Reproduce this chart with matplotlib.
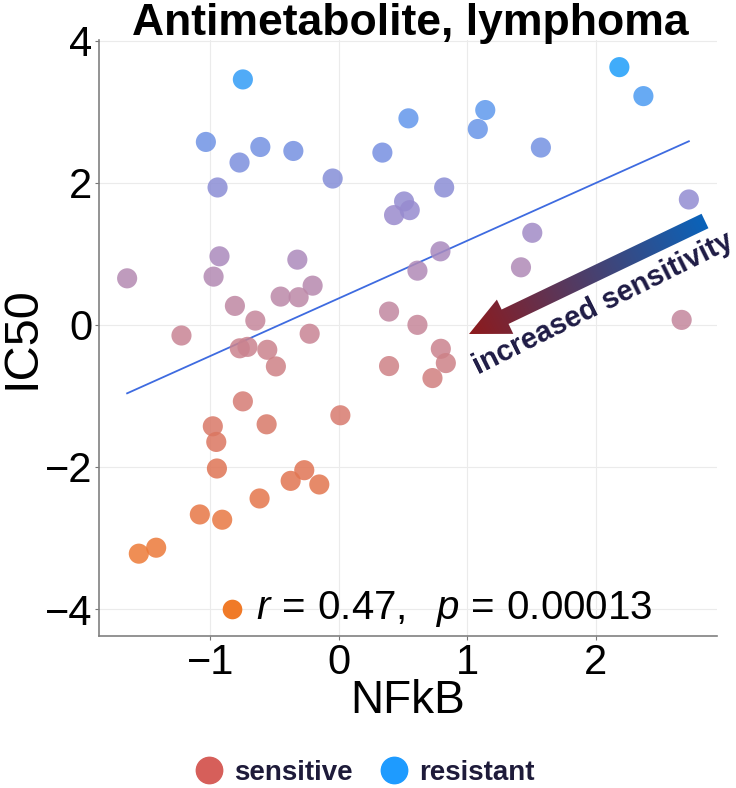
import numpy as np
import matplotlib
matplotlib.use("Agg")
from matplotlib import pyplot as plt
from matplotlib.colors import LinearSegmentedColormap, Normalize, to_rgb
from matplotlib.lines import Line2D
from matplotlib.patches import Polygon

plt.rcParams['font.family'] = ['Liberation Sans', 'DejaVu Sans']
plt.rcParams['mathtext.fontset'] = 'custom'
plt.rcParams['mathtext.rm'] = 'Liberation Sans'
plt.rcParams['mathtext.it'] = 'Liberation Sans:italic'

# NFkB score and IC50 per cell line
nfkb = [-0.746, 0.543, -1.034, -0.61, -0.772, -0.353, 0.34, -0.047, -0.943, 0.509,
        0.431, 0.553, -0.928, -0.322, -1.647, -0.974, -0.203, -0.452, -0.312, -0.808,
        0.392, -0.649, 0.613, 0.613, -1.224, -0.77, -0.71, -0.226, -0.556, -0.489,
        0.392, -0.746, 0.013, -0.98, -0.561, -0.953, -0.948, -0.268, -0.374, -0.151,
        -0.616, -1.081, -0.907, -1.421, -1.556, 2.185, 2.372, 1.141, 1.083, 1.574,
        0.821, 2.726, 1.507, 0.792, 1.419, 2.67, 0.795, 0.834, 0.73]
ic50 = [3.455, 2.907, 2.575, 2.504, 2.285, 2.448, 2.425, 2.06, 1.934, 1.737,
        1.545, 1.615, 0.965, 0.918, 0.655, 0.679, 0.552, 0.398, 0.389, 0.267,
        0.187, 0.06, 0.763, 0.0, -0.15, -0.33, -0.31, -0.125, -0.351, -0.585,
        -0.58, -1.077, -1.273, -1.428, -1.4, -1.648, -2.022, -2.046, -2.196, -2.247,
        -2.444, -2.669, -2.743, -3.137, -3.221, 3.628, 3.22, 3.024, 2.757, 2.496,
        1.934, 1.765, 1.296, 1.035, 0.81, 0.07, -0.337, -0.538, -0.749]

r_text = r'$r\,=\,0.47,\ \ p\,=\,0.00013$'
groups = ['sensitive', 'resistant']
group_colors = ['#D65F5A', '#1E9BFF']

x = np.array(nfkb)
y = np.array(ic50)

cmap = LinearSegmentedColormap.from_list('ic50', [
    (0.00, '#EE7A36'), (0.20, '#DE7458'), (0.35, '#D27E7C'), (0.48, '#C5869A'),
    (0.58, '#B28AB5'), (0.70, '#9A8BCD'), (0.82, '#7890E0'), (0.92, '#5C9AEF'),
    (1.00, '#1E9EFA')])
norm = Normalize(vmin=-3.3, vmax=3.65)

fig = plt.figure(figsize=(7.36, 7.88), dpi=100)
ax = fig.add_axes([99/736, 1-636/788, 618/736, 596/788])

ax.scatter(x, y, s=210, c=y, cmap=cmap, norm=norm, alpha=0.85, linewidths=0, zorder=3)

k, b = np.polyfit(x, y, 1)
xs = np.array([x.min(), x.max()])
ax.plot(xs, k*xs + b, color='#3E6BE0', lw=1.3, zorder=2)

# stat label
ax.scatter([-0.83], [-4.0], s=200, color='#F07A28', zorder=3, linewidths=0)
ax.text(-0.64, -4.0, r_text, fontsize=29, va='center', ha='left')

ax.set_xlim(-1.866, 2.945)
ax.set_ylim(-4.38, 4.01)
ax.set_xticks([-1, 0, 1, 2])
ax.set_yticks([-4, -2, 0, 2, 4])
ax.set_xticklabels(['\u22121', '0', '1', '2'])
ax.set_yticklabels(['\u22124', '\u22122', '0', '2', '4'])
ax.tick_params(labelsize=30, length=3, width=0.8, color='#777777', pad=2)
ax.grid(color='#EBEBEB', lw=0.8, zorder=0)
ax.set_axisbelow(True)
for s in ['top', 'right']:
    ax.spines[s].set_visible(False)
for s in ['left', 'bottom']:
    ax.spines[s].set_color('#808080')
    ax.spines[s].set_linewidth(1.2)
ax.set_xlabel('NFkB', fontsize=33, labelpad=-3)
ax.set_ylabel('IC50', fontsize=35, labelpad=0)
fig.text(410/736, 1-35/788, 'Antimetabolite, lymphoma', fontsize=32, fontweight='bold',
         ha='center', va='baseline')

# overlay in pixel coordinates for the gradient arrow
ov = fig.add_axes([0, 0, 1, 1], zorder=5)
ov.set_xlim(0, 736)
ov.set_ylim(788, 0)
ov.axis('off')

tail = np.array([705.0, 221.0])
tip = np.array([469.0, 334.0])
u = (tip - tail) / np.linalg.norm(tip - tail)
n = np.array([-u[1], u[0]])
hw, hh, hl = 8.0, 19.0, 40.0
base = tip - u*hl
pts = [tail + n*hw, base + n*hw, base + n*hh, tip, base - n*hh, base - n*hw, tail - n*hw]
poly = Polygon(pts, closed=True, facecolor='none', edgecolor='none', transform=ov.transData)
ov.add_patch(poly)

gx = np.linspace(440, 720, 300)
gy = np.linspace(190, 370, 200)
GX, GY = np.meshgrid(gx, gy)
t = ((GX - tail[0])*u[0] + (GY - tail[1])*u[1]) / np.linalg.norm(tip - tail)
t = np.clip(t, 0, 1)[..., None]
c0 = np.array(to_rgb('#0A63BA'))
c1 = np.array(to_rgb('#8E1A1C'))
img = c0*(1-t) + c1*t
im = ov.imshow(img, extent=(gx[0], gx[-1], gy[0], gy[-1]), origin='lower',
               interpolation='bilinear', aspect='auto')
im.set_clip_path(poly)
ov.set_xlim(0, 736)
ov.set_ylim(788, 0)

ov.text(478, 375, 'increased sensitivity', rotation=26.5, rotation_mode='anchor',
        ha='left', va='baseline', fontsize=21, fontweight='bold', color='#1E1B45')

handles = [Line2D([], [], marker='o', ls='', ms=19, color=c) for c in group_colors]
fig.legend(handles, groups, loc='center', bbox_to_anchor=(365/736, 1-773/788), ncol=2,
           frameon=False, prop={'weight': 'bold', 'size': 20}, labelcolor='#1E1B3A',
           handlelength=1.0, handletextpad=0.4, columnspacing=1.0)

fig.savefig('out.png', dpi=100)
